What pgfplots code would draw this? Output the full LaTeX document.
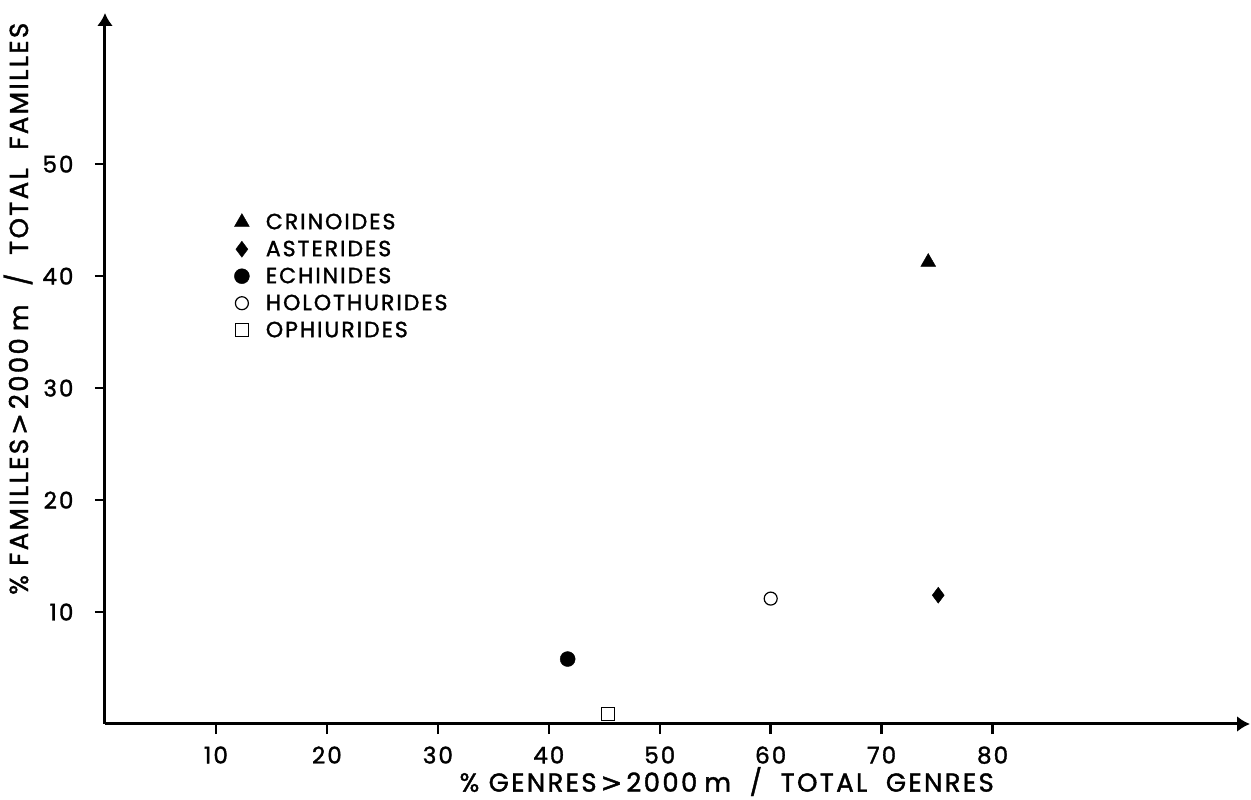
\documentclass[border=0pt]{standalone}
\usepackage{fontspec}
\setmainfont{Poppins}[LetterSpace=9, FakeBold=1.5]
\newfontfamily\gtfont{DejaVu Sans}[FakeBold=1.5]
\usepackage{pgfplots}
\pgfplotsset{compat=1.18}
\usetikzlibrary{arrows.meta}
\begin{document}
\begin{tikzpicture}
\begin{axis}[
  at={(0pt,0pt)}, anchor=origin,
  scale only axis, width=1145pt, height=711pt,
  xmin=0, xmax=103.2, ymin=0, ymax=63.5,
  axis lines*=left,
  axis line style={line width=3pt, -{Latex[length=13pt,width=16pt]}},
  clip=false,
  xtick={10,20,...,80}, ytick={10,20,...,50},
  tick align=outside, major tick length=10pt,
  every tick/.style={line width=2.5pt, black},
  /pgf/number format/assume math mode=true,
  ticklabel style={font=\fontsize{23}{23}\selectfont},
  xticklabel style={yshift=-9pt},
  yticklabel style={xshift=-18pt},
  xlabel={\% GENRES\hspace{4pt}{\gtfont >}\hspace{4pt}2000\hspace{7pt}m \ / \ TOTAL\ \ GENRES},
  ylabel={\% FAMILLES\hspace{4pt}{\gtfont >}\hspace{4pt}2000\hspace{7pt}m \ / \ TOTAL\ \ FAMILLES},
  label style={font=\fontsize{26}{26}\selectfont, inner sep=0pt},
  xlabel style={at={(axis description cs:0.543,-0.081)}, anchor=center},
  ylabel style={at={(axis description cs:-0.076,0.584)}, anchor=center, rotate=0},
  legend style={at={(axis cs:11.6,45.6)}, anchor=north west, draw=none, fill=none,
    inner sep=0pt, row sep=11pt,
    nodes={inner sep=1pt, text height=14pt, text depth=0pt},
    font=\fontsize{22}{22}\selectfont},
  legend cell align=left,
  legend image code/.code={\draw[#1] plot coordinates {(8pt,0pt)}; \path[draw=none,fill=none] (0pt,-4pt) rectangle (31pt,4pt);},
]
\addplot[only marks, mark=triangle*, mark size=8.6pt, black] coordinates {(74.2,41.25)};
\addlegendentry{CRINOIDES}
\addplot[only marks, mark=diamond*, mark size=8pt, black] coordinates {(75.1,11.5)};
\addlegendentry{ASTERIDES}
\addplot[only marks, mark=*, mark size=7.5pt, black] coordinates {(41.7,5.8)};
\addlegendentry{ECHINIDES}
\addplot[only marks, mark=o, mark size=6.5pt, black, line width=1.2pt] coordinates {(60,11.2)};
\addlegendentry{HOLOTHURIDES}
\addplot[only marks, mark=square, mark size=6.5pt, black, line width=1.2pt] coordinates {(45.3,0.9)};
\addlegendentry{OPHIURIDES}
\end{axis}
\pgfresetboundingbox
\path (-105pt,-76pt) rectangle (1146pt,724pt);
\end{tikzpicture}
\end{document}
